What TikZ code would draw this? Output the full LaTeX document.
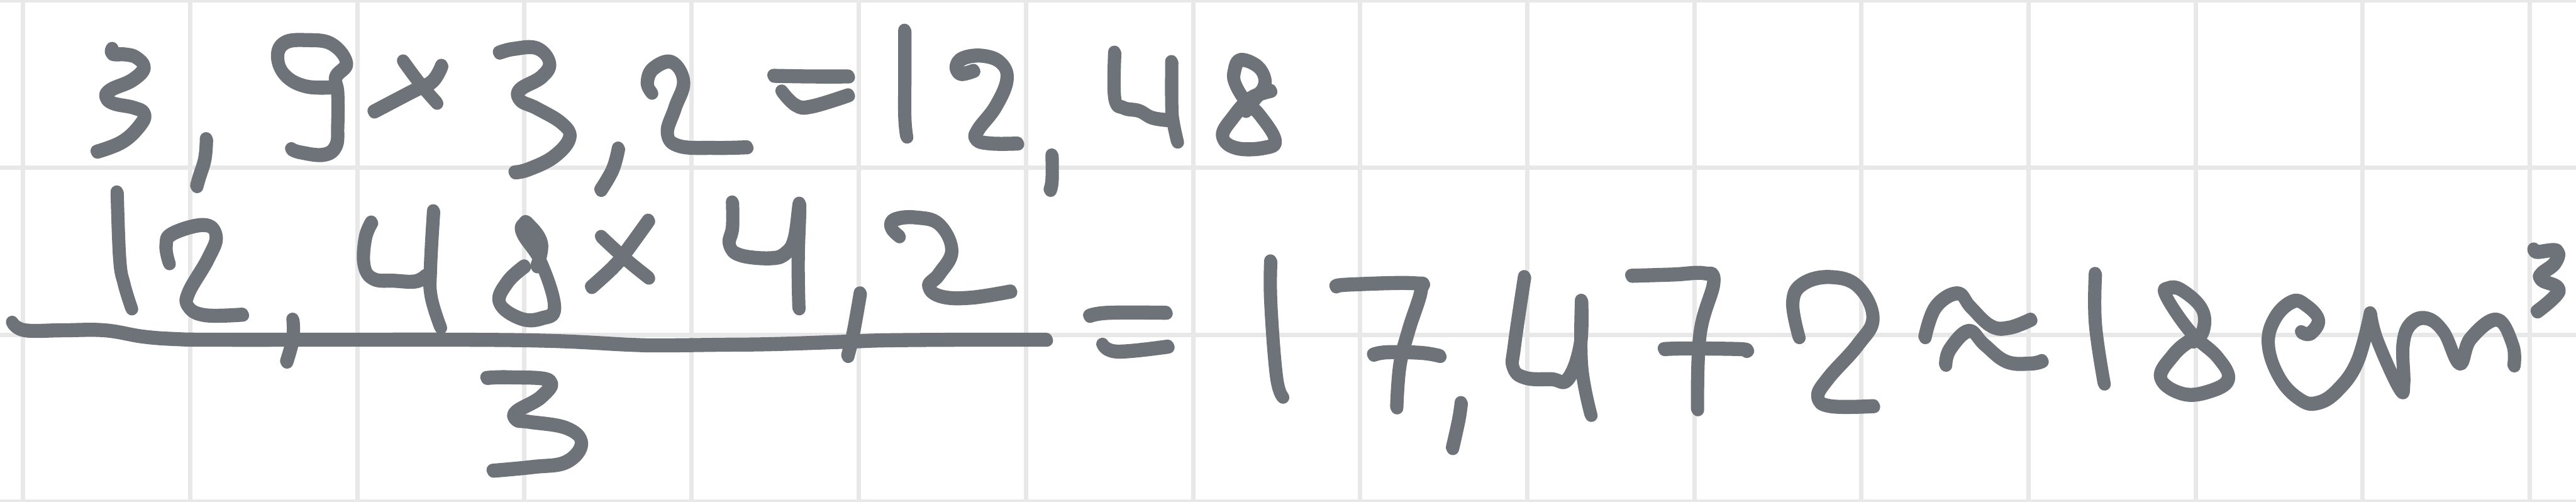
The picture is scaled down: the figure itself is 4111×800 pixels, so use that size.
\documentclass[tikz,border=0pt]{standalone}
\definecolor{inkc}{HTML}{6D7378}
\definecolor{gridc}{HTML}{E8E8E8}
\tikzset{
  inkstroke/.style={draw=inkc,line width=0.4cm,line cap=round,line join=round},
  gridline/.style={draw=gridc,line width=0.14cm}
}
% a slanted nib: the same stroke twice, slightly offset along the nib
\newcommand{\inkpath}[1]{%
  \draw[inkstroke,shift={(-0.6,-1.2)}] plot[smooth,tension=0.68] coordinates {#1};%
  \draw[inkstroke,shift={(0.6,1.2)}] plot[smooth,tension=0.68] coordinates {#1};%
}
\begin{document}
\begin{tikzpicture}[x=0.02cm,y=-0.02cm]
\useasboundingbox (0,0) rectangle (4111,800);
\fill[white] (0,0) rectangle (4111,800);
\foreach \gx in {37,304,571,837,1104,1370,1637,1904,2170,2437,2704,2970,3237,3504,3770,4037}
  \draw[gridline] (\gx,0) -- (\gx,800);
\foreach \gy in {1,267,534,800}
  \draw[gridline] (0,\gy) -- (4111,\gy);
% first line
\inkpath{(179.5,78)(179.5,86)(201,87)(218,92)(230,108)(211,128)(177.5,143)(169,155)(181,165)(214,172)(231,182)(221,203)(194,227)(155,242)}
\inkpath{(329.5,222)(327,253)(318,283)(314,297)}
\inkpath{(536,139)(489,138)(455,120)(443,90)(455,68)(489,64)(529,70)(553,100)(536,123)(539,147)(539,200)(536,233)(516,247)(479,243)(465.5,238)}
\inkpath{(644,98)(670,133)(697,164)}
\inkpath{(705,105)(690,130)(660,145)(597,178)}
\inkpath{(797,84)(820,78)(857,77)(877,100)(864,123)(830,143)(830,160)(857,173)(897,197)(909,220)(884,250)(844,270)(822,275)}
\inkpath{(987,237)(978,270)(959,303)}
\inkpath{(1040,148)(1033,133)(1042,110)(1072,99)(1091,130)(1077,173)(1065,213)(1084,233)(1140,236)(1192,235)}
\inkpath{(1235,121)(1295,122)(1354,122)}
\inkpath{(1248,146)(1270,168)(1295,170)(1354,152)}
\inkpath{(1444,49)(1444,120)(1444,187)(1447,218)}
\inkpath{(1554,113)(1533,118)(1526,107)(1537,93)(1568,89)(1597,100)(1607,127)(1589,170)(1561,207)(1558,223)(1582,229)(1624,229)}
\inkpath{(1679,248)(1679,287)(1676,303)}
\inkpath{(1779,84)(1779,157)(1793,172)(1818,177)(1839,188)(1867,192)}
\inkpath{(1870,99)(1870,167)(1872,193)(1879,226)}
\inkpath{(1988,177)(2003,157)(2017,140)(2017,120)(2003,103)(1979,96)(1970,113)(1971,133)(1989,163)(2010,183)(2035,223)(2017,236)(1972,236)(1951,217)(1968,187)(1996,157)(2028,145)}
% second line
\inkpath{(187,307)(191,413)(198,453)(210,492)}
\inkpath{(270,420)(265,393)(275,373)(326,359)(345,377)(332,413)(301,467)(301,490)(328,503)(387,502)}
\inkpath{(20,515)(40,527)(100,527)(167,527)(228,537)(281,541)(340,542)(540,542)(737,542)(884,544)(1005,550)(1060,551)(1150,550)(1234,549)(1355,545)(1415,543)(1540,542)(1670,542)}
\inkpath{(467.5,510)(467.5,540)(457.5,577)}
\inkpath{(593,355)(583,380)(581,423)(596,445)(630,448)(663,449)(680,440)}
\inkpath{(692,337)(687,427)(688,473)(703,522)}
\inkpath{(857,425)(864,387)(844,358)(837,357)(834,373)(864,420)(885,490)(864,508)(830,508)(797,483)(810,450)(837,425)}
\inkpath{(1035,352)(998,403)(978,427)(944,458)}
\inkpath{(960,378)(998,413)(1035,443)}
\inkpath{(777,603)(814,602)(877,607)(864,633)(824,657)(824,670)(844,673)(904,683)(928,707)(904,737)(851,745)(787,751)}
\inkpath{(1169,323)(1169,363)(1164,390)(1181,407)(1231,412)(1255,403)(1268,380)(1276,325)(1274,400)(1274,450)(1275,492)}
\inkpath{(1373,468)(1362,530)(1353,568)}
\inkpath{(1435,377)(1422,363)(1429,350)(1462,347)(1499,358)(1519,400)(1499,437)(1482,457)(1502,473)(1549,475)(1613,465)}
\inkpath{(1739,504)(1770,499)(1861,499)}
\inkpath{(1760,550)(1784,561)(1864,553)}
\inkpath{(2028,417)(2028,483)(2037,600)(2047,633)}
\inkpath{(2132,457)(2154,454)(2258,452)(2268,463)(2248,527)(2234,583)(2229,650)}
\inkpath{(2192,566)(2214,562)(2268,563)(2298,568)}
\inkpath{(2332,643)(2328,670)(2318,715)}
\inkpath{(2433,442)(2417,550)(2415,587)(2435,603)(2476,605)(2502,605)(2522,550)(2524,480)}
\inkpath{(2524,480)(2524,583)(2539,662)}
\inkpath{(2604,440)(2670,438)(2720,436)(2735,450)(2713,533)(2709,653)}
\inkpath{(2656,557)(2690,556)(2777,557)(2787,560)}
\inkpath{(2871,538)(2861,483)(2877,453)(2921,442)(2965,457)(2989,507)(2965,550)(2918,603)(2901,633)(2921,648)(2990,648)}
\inkpath{(3072,538)(3089,490)(3124,468)(3145,490)(3177,520)(3206,523)(3241,510)}
\inkpath{(3105,582)(3112,557)(3142,528)(3167,550)(3202,577)(3241,580)(3259,576)}
\inkpath{(3344,437)(3344,517)(3358,612)}
\inkpath{(3500,545)(3516,527)(3514,493)(3482,463)(3461,460)(3457,473)(3496,530)(3539,570)(3556,605)(3524,625)(3482,628)(3448,603)(3468,567)(3493,545)(3507,542)}
\inkpath{(3673,530)(3687,532)(3700,510)(3680,487)(3659,481)(3631,507)(3620,550)(3638,603)(3670,637)(3698,643)(3730,623)(3762,577)(3783,500)}
\inkpath{(3783,500)(3794,543)(3829,620)(3836,610)(3835,550)(3847,517)(3873,508)(3900,530)(3925,580)(3943,540)(3985,510)(4010,550)(4012,583)}
\inkpath{(4044,398)(4049,402)(4081,400)(4077,420)(4056,437)(4056,447)(4084,463)(4049,497)}
\end{tikzpicture}
\end{document}
